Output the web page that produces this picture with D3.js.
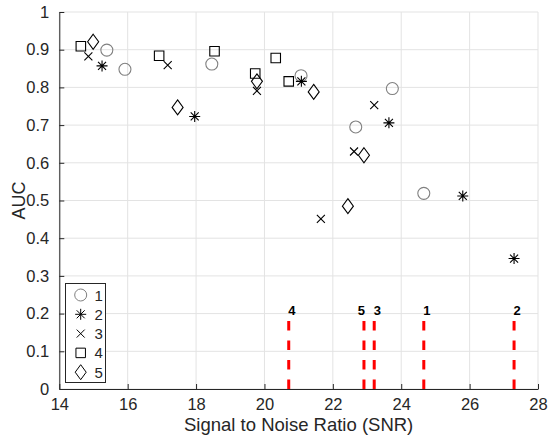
<!DOCTYPE html>
<html><head><meta charset="utf-8">
<script src="https://cdn.jsdelivr.net/npm/d3@7"></script>
<style>
html,body{margin:0;padding:0;background:#fff;}
svg{display:block;font-family:"Liberation Sans",Arial,Helvetica,sans-serif;}
</style></head>
<body>
<svg id="chart" width="548" height="437"></svg>
<script>
// ---- data ----
const seriesNames = ["1", "2", "3", "4", "5"];
const snr1 = [15.39, 15.92, 18.46, 21.07, 22.67, 23.74, 24.66];
const auc1 = [0.899, 0.848, 0.862, 0.831, 0.695, 0.797, 0.519];
const snr2 = [15.25, 17.96, 21.08, 23.64, 25.80, 27.30];
const auc2 = [0.857, 0.723, 0.816, 0.706, 0.512, 0.346];
const snr3 = [14.85, 17.17, 19.78, 21.65, 22.62, 23.21];
const auc3 = [0.882, 0.859, 0.791, 0.451, 0.630, 0.753];
const snr4 = [14.63, 16.92, 18.54, 19.73, 20.33, 20.71];
const auc4 = [0.909, 0.884, 0.896, 0.837, 0.878, 0.816];
const snr5 = [14.99, 17.46, 19.78, 21.44, 22.44, 22.91];
const auc5 = [0.921, 0.747, 0.816, 0.788, 0.485, 0.620];
const xTicks = [14, 16, 18, 20, 22, 24, 26, 28];
const yTicks = [0, 0.1, 0.2, 0.3, 0.4, 0.5, 0.6, 0.7, 0.8, 0.9, 1];
const markerHeight = 0.2;   // height of the red dashed marker lines (AUC units)

const snrs = [snr1, snr2, snr3, snr4, snr5];
const aucs = [auc1, auc2, auc3, auc4, auc5];

// ---- layout ----
const svg = d3.select("#chart");
const x = d3.scaleLinear().domain([14, 28]).range([59.3, 538]);
const y = d3.scaleLinear().domain([0, 1]).range([389, 12]);
const textCol = "#262626";

// grid
svg.append("g").selectAll("line").data(xTicks).join("line")
  .attr("x1", d => x(d)).attr("x2", d => x(d))
  .attr("y1", y(0)).attr("y2", y(1))
  .attr("stroke", "#e3e3e3").attr("stroke-width", 1);
svg.append("g").selectAll("line").data(yTicks).join("line")
  .attr("x1", x(14)).attr("x2", x(28))
  .attr("y1", d => y(d)).attr("y2", d => y(d))
  .attr("stroke", "#e3e3e3").attr("stroke-width", 1);

// axes
const xAxis = d3.axisBottom(x).tickValues(xTicks).tickSizeInner(-5).tickSizeOuter(0).tickPadding(9.5).tickFormat(d3.format("d"));
const yAxis = d3.axisLeft(y).tickValues(yTicks).tickSizeInner(-5).tickSizeOuter(0).tickPadding(10).tickFormat(d => d === 0 ? "0" : d === 1 ? "1" : d3.format(".1f")(d));

const gx = svg.append("g").attr("transform", `translate(0,${y(0)})`).call(xAxis);
const gy = svg.append("g").attr("transform", `translate(${x(14)},0)`).call(yAxis);
[gx, gy].forEach(g => {
  g.select(".domain").attr("stroke", textCol).attr("stroke-width", 1);
  g.selectAll(".tick line").attr("stroke", textCol);
  g.selectAll(".tick text").attr("fill", textCol).attr("font-size", 16.5)
    .attr("font-family", "Liberation Sans, Arial, sans-serif");
});

// axis labels
svg.append("text").attr("x", (x(14) + x(28)) / 2).attr("y", 431)
  .attr("text-anchor", "middle").attr("font-size", 18.5).attr("fill", textCol)
  .text("Signal to Noise Ratio (SNR)");
svg.append("text").attr("transform", `translate(25,${(y(0) + y(1)) / 2}) rotate(-90)`)
  .attr("text-anchor", "middle").attr("font-size", 18).attr("fill", textCol)
  .text("AUC");

// markers
function markerPath(i) {
  switch (i) {
    case 0: return d3.symbol().type(d3.symbolCircle).size(Math.PI * 36)();
    case 1: return "M-5.5,0H5.5M0,-5.5V5.5M-4,-4L4,4M-4,4L4,-4";
    case 2: return "M-4,-4L4,4M-4,4L4,-4";
    case 3: return "M-4.75,-4.75H4.75V4.75H-4.75Z";
    case 4: return "M0,-7.5L5.5,0L0,7.5L-5.5,0Z";
  }
}
const markerColor = i => i === 0 ? "#808080" : "#000";

// red dashed lines at max SNR of each series + labels
const maxSNR = snrs.map(s => d3.max(s));
const lines = svg.append("g");
maxSNR.forEach((m, i) => {
  lines.append("line")
    .attr("x1", x(m)).attr("x2", x(m))
    .attr("y1", y(0)).attr("y2", y(markerHeight))
    .attr("stroke", "#ff0000").attr("stroke-width", 3)
    .attr("stroke-dasharray", "9.5,10");
  const anchorEnd = seriesNames[i] === "5";
  lines.append("text")
    .attr("x", anchorEnd ? x(m) + 1 : x(m) - 0.5)
    .attr("y", y(markerHeight) + 1.5)
    .attr("text-anchor", anchorEnd ? "end" : "start")
    .attr("font-size", 13).attr("font-weight", "bold").attr("fill", "#000")
    .text(seriesNames[i]);
});

// points
snrs.forEach((s, i) => {
  svg.append("g").selectAll("path").data(s.map((v, j) => [v, aucs[i][j]])).join("path")
    .attr("transform", d => `translate(${x(d[0])},${y(d[1])})`)
    .attr("d", markerPath(i))
    .attr("fill", "none").attr("stroke", markerColor(i)).attr("stroke-width", 1.1);
});

// legend
const lg = svg.append("g");
lg.append("rect").attr("x", 65.5).attr("y", 283.5).attr("width", 40).attr("height", 99)
  .attr("fill", "#fff").attr("stroke", textCol).attr("stroke-width", 1);
seriesNames.forEach((n, i) => {
  const yy = 295 + i * 19.3;
  lg.append("path").attr("transform", `translate(80.7,${yy})`).attr("d", markerPath(i))
    .attr("fill", "none").attr("stroke", markerColor(i)).attr("stroke-width", 1);
  lg.append("text").attr("x", 94.5).attr("y", yy + 5.5).attr("font-size", 15)
    .attr("fill", textCol).text(n);
});
</script>
</body></html>
